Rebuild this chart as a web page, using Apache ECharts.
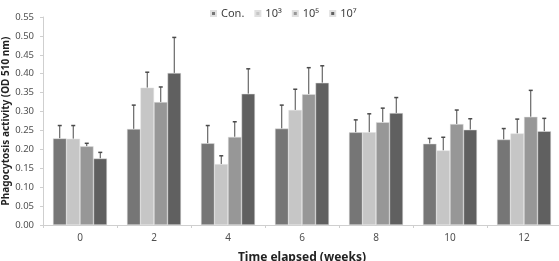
<!DOCTYPE html>
<html>
<head>
<meta charset="utf-8">
<script src="https://cdn.jsdelivr.net/npm/echarts@6/dist/echarts.min.js"></script>
<style>
html, body { margin: 0; padding: 0; background: #fff; }
#chart { width: 559px; height: 261px; }
</style>
</head>
<body>
<div id="chart"></div>
<script>
// 주차별 식세포 활성
var weeks = ['0', '2', '4', '6', '8', '10', '12'];
var seriesNames = ['Con.', '10³', '10⁵', '10⁷'];
var colors = ['#767676', '#c6c6c6', '#979797', '#606060'];

var conMean = [0.229, 0.254, 0.216, 0.255, 0.245, 0.215, 0.226];
var conErr  = [0.263, 0.317, 0.263, 0.317, 0.278, 0.229, 0.255];
var e3Mean  = [0.228, 0.363, 0.161, 0.304, 0.245, 0.197, 0.242];
var e3Err   = [0.263, 0.404, 0.183, 0.359, 0.294, 0.232, 0.280];
var e5Mean  = [0.208, 0.325, 0.233, 0.346, 0.272, 0.267, 0.286];
var e5Err   = [0.216, 0.365, 0.273, 0.416, 0.309, 0.304, 0.356];
var e7Mean  = [0.176, 0.402, 0.347, 0.376, 0.296, 0.252, 0.248];
var e7Err   = [0.192, 0.496, 0.413, 0.421, 0.337, 0.281, 0.282];

var yTicks = ['0.00','0.05','0.10','0.15','0.20','0.25','0.30','0.35','0.40','0.45','0.50','0.55'];

var means = [conMean, e3Mean, e5Mean, e7Mean];
var errs = [conErr, e3Err, e5Err, e7Err];

var myChart = echarts.init(document.getElementById('chart'), null, {renderer: 'canvas'});

var barCatGap = 0.27;
var nSeries = 4;

function errRender(idx) {
    return function (params, api) {
        var ci = api.value(0);
        var top = api.coord([ci, api.value(2)]);
        var base = api.coord([ci, api.value(1)]);
        var bandW = api.size([1, 0])[0];
        var groupW = bandW * (1 - barCatGap);
        var bw = groupW / nSeries;
        var x = top[0] - groupW / 2 + bw * (idx + 0.5);
        return {
            type: 'group',
            children: [{
                type: 'line',
                shape: {x1: x, y1: base[1], x2: x, y2: top[1]},
                style: {stroke: '#4a4a4a', lineWidth: 1}
            }, {
                type: 'line',
                shape: {x1: x - 2, y1: top[1], x2: x + 2, y2: top[1]},
                style: {stroke: '#4a4a4a', lineWidth: 1.5}
            }]
        };
    };
}

var series = [];
for (var i = 0; i < nSeries; i++) {
    series.push({
        name: seriesNames[i],
        type: 'bar',
        barGap: '0%',
        barCategoryGap: '27%',
        itemStyle: {color: colors[i], borderColor: '#e0e0e0', borderWidth: 0.5},
        data: means[i],
        z: 2
    });
}
for (var j = 0; j < nSeries; j++) {
    var d = [];
    for (var k = 0; k < weeks.length; k++) d.push([k, means[j][k], errs[j][k]]);
    series.push({
        type: 'custom',
        renderItem: errRender(j),
        encode: {x: 0, y: 2},
        data: d,
        z: 1,
        silent: true
    });
}

var option = {
    animation: false,
    color: colors,
    legend: {
        data: seriesNames,
        top: 3,
        left: 205,
        itemWidth: 5,
        itemHeight: 5,
        itemGap: 10,
        icon: 'rect',
        textStyle: {color: '#404040', fontSize: 11, fontFamily: 'Noto Sans'}
    },
    grid: {left: 43, right: -2, top: 17, bottom: 36, outerBoundsMode: 'none', containLabel: false},
    xAxis: {
        type: 'category',
        data: weeks,
        name: 'Time elapsed (weeks)',
        nameLocation: 'middle',
        nameGap: 27,
        nameMoveOverlap: false,
        nameTextStyle: {color: '#222', fontSize: 12, fontWeight: 'bold', fontFamily: 'Noto Sans'},
        axisLine: {lineStyle: {color: '#cfcfcf'}},
        axisTick: {show: true, length: 3, lineStyle: {color: '#cfcfcf'}},
        axisLabel: {color: '#505050', fontSize: 10, margin: 8, fontFamily: 'Noto Sans'}
    },
    yAxis: {
        type: 'value',
        min: 0,
        max: 0.55,
        interval: 0.05,
        name: 'Phagocytosis activity (OD 510 nm)',
        nameLocation: 'middle',
        nameGap: 32,
        nameMoveOverlap: false,
        nameTextStyle: {color: '#222', fontSize: 10, fontWeight: 'bold', fontFamily: 'Noto Sans'},
        axisLine: {show: true, lineStyle: {color: '#cfcfcf'}},
        axisTick: {show: true, length: 3, lineStyle: {color: '#cfcfcf'}},
        splitLine: {show: false},
        axisLabel: {
            color: '#505050', fontSize: 9.5, margin: 9, fontFamily: 'Noto Sans',
            formatter: function (v) { return yTicks[Math.round(v / 0.05)]; }
        }
    },
    series: series
};

myChart.setOption(option);
</script>
</body>
</html>
